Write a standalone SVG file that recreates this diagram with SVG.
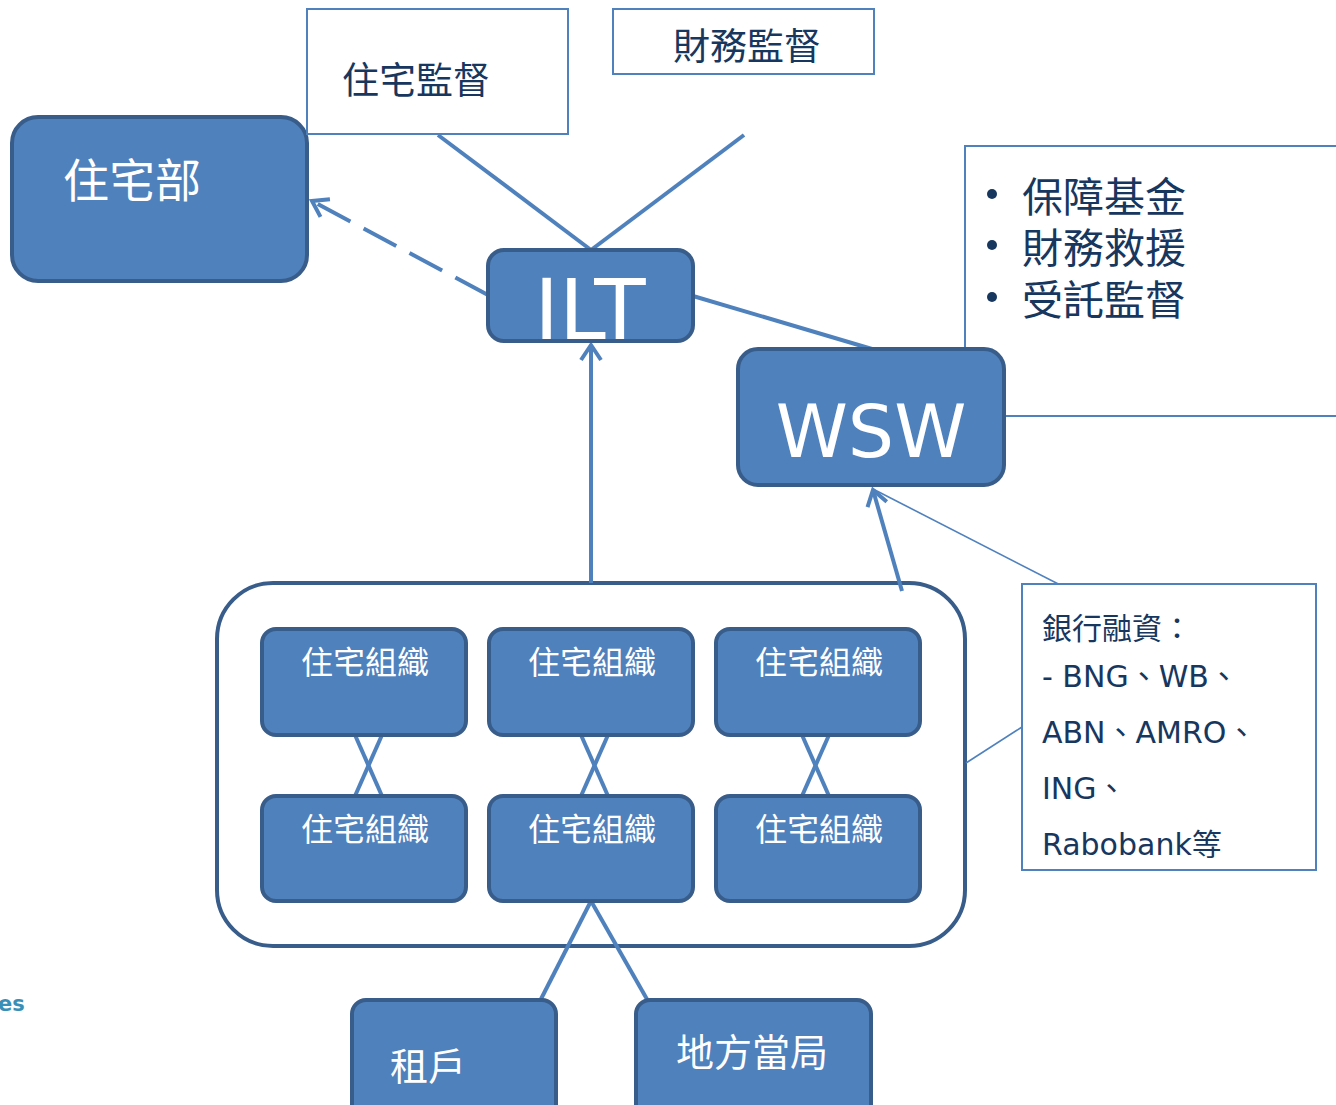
<svg xmlns="http://www.w3.org/2000/svg" width="1336" height="1105" viewBox="0 0 1336 1105">
<style>
.node{fill:#4F81BD;stroke:#385D8A;stroke-width:4}
.box{fill:#FFFFFF;stroke:#4F81BD;stroke-width:2}
.conn{stroke:#4F81BD;stroke-width:4;fill:none}
.thin{stroke:#4F81BD;stroke-width:1.6;fill:none}
.wcjk{font-family:"Noto Sans CJK TC","Noto Sans CJK SC",sans-serif;fill:#FFFFFF}
.dcjk{font-family:"Noto Sans CJK TC","Noto Sans CJK SC",sans-serif;fill:#17375E}
.lat{font-family:"DejaVu Sans","Noto Sans CJK TC",sans-serif;fill:#FFFFFF}
.bank{font-family:"DejaVu Sans","Noto Sans CJK TC",sans-serif;fill:#17375E;font-size:30px}
</style>
<defs>
<marker id="arr" markerUnits="userSpaceOnUse" viewBox="-20 -14 24 28" markerWidth="24" markerHeight="28" refX="0" refY="0" orient="auto">
<path d="M -15 -10 L 0 0 L -15 10" fill="none" stroke="#4F81BD" stroke-width="4"/>
</marker>
</defs>
<rect width="1336" height="1105" fill="#FFFFFF"/>

<g id="wsw-info">
<rect class="box" x="965" y="146" width="400" height="270"/>
<circle cx="992" cy="194" r="5" fill="#17375E"/>
<circle cx="992" cy="245" r="5" fill="#17375E"/>
<circle cx="992" cy="297" r="5" fill="#17375E"/>
<text class="dcjk" x="1022" y="212" font-size="41">保障基金</text>
<text class="dcjk" x="1022" y="263" font-size="41">財務救援</text>
<text class="dcjk" x="1022" y="315" font-size="41">受託監督</text>
</g>

<g id="container">
<rect x="217" y="583" width="748" height="363" rx="56" fill="#FFFFFF" stroke="#385D8A" stroke-width="4"/>
</g>

<g id="connectors">
<line class="conn" x1="438" y1="135" x2="591" y2="250"/>
<line class="conn" x1="744" y1="135" x2="591" y2="250"/>
<line class="conn" x1="693" y1="296" x2="872" y2="349"/>
<line class="conn" x1="488" y1="295" x2="312" y2="201" stroke-dasharray="37 15" marker-end="url(#arr)"/>
<line class="conn" x1="591" y1="583" x2="591" y2="345" marker-end="url(#arr)"/>
<line class="conn" x1="902" y1="591" x2="873" y2="490" marker-end="url(#arr)"/>
<line class="thin" x1="873" y1="489" x2="1072" y2="591"/>
<line class="thin" x1="966" y1="763" x2="1022" y2="727"/>
<line class="conn" x1="355" y1="735" x2="382" y2="796"/>
<line class="conn" x1="382" y1="735" x2="355" y2="796"/>
<line class="conn" x1="581" y1="735" x2="608" y2="796"/>
<line class="conn" x1="608" y1="735" x2="581" y2="796"/>
<line class="conn" x1="802" y1="735" x2="829" y2="796"/>
<line class="conn" x1="829" y1="735" x2="802" y2="796"/>
<line class="conn" x1="591" y1="901" x2="540" y2="1001"/>
<line class="conn" x1="591" y1="901" x2="648" y2="1001"/>
</g>

<g id="housing-ministry">
<rect class="node" x="12" y="117" width="295" height="164" rx="26"/>
<text class="wcjk" x="63" y="197" font-size="46">住宅部</text>
</g>

<g id="housing-supervision">
<rect class="box" x="307" y="9" width="261" height="125"/>
<text class="dcjk" x="342" y="94" font-size="37">住宅監督</text>
</g>

<g id="financial-supervision">
<rect class="box" x="613" y="9" width="261" height="65"/>
<text class="dcjk" x="673" y="60" font-size="37">財務監督</text>
</g>

<g id="ilt">
<rect class="node" x="488" y="250" width="205" height="91" rx="16"/>
<text class="lat" x="590" y="339" font-size="84" text-anchor="middle">ILT</text>
</g>

<g id="wsw">
<rect class="node" x="738" y="349" width="266" height="136" rx="20"/>
<text class="lat" x="871" y="457" font-size="73" text-anchor="middle">WSW</text>
</g>

<g id="org-1">
<rect class="node" x="262" y="629" width="204" height="106" rx="14"/>
<text class="wcjk" x="365" y="674" font-size="32" text-anchor="middle">住宅組織</text>
</g>
<g id="org-2">
<rect class="node" x="489" y="629" width="204" height="106" rx="14"/>
<text class="wcjk" x="592" y="674" font-size="32" text-anchor="middle">住宅組織</text>
</g>
<g id="org-3">
<rect class="node" x="716" y="629" width="204" height="106" rx="14"/>
<text class="wcjk" x="819" y="674" font-size="32" text-anchor="middle">住宅組織</text>
</g>
<g id="org-4">
<rect class="node" x="262" y="796" width="204" height="105" rx="14"/>
<text class="wcjk" x="365" y="841" font-size="32" text-anchor="middle">住宅組織</text>
</g>
<g id="org-5">
<rect class="node" x="489" y="796" width="204" height="105" rx="14"/>
<text class="wcjk" x="592" y="841" font-size="32" text-anchor="middle">住宅組織</text>
</g>
<g id="org-6">
<rect class="node" x="716" y="796" width="204" height="105" rx="14"/>
<text class="wcjk" x="819" y="841" font-size="32" text-anchor="middle">住宅組織</text>
</g>

<g id="bank-financing">
<rect class="box" x="1022" y="584" width="294" height="286"/>
<text class="bank" x="1042" y="639">銀行融資：</text>
<text class="bank" x="1042" y="687">- BNG、WB、</text>
<text class="bank" x="1042" y="743">ABN、AMRO、</text>
<text class="bank" x="1042" y="799">ING、</text>
<text class="bank" x="1042" y="855">Rabobank等</text>
</g>

<g id="tenants">
<rect class="node" x="352" y="1000" width="204" height="120" rx="14"/>
<text class="wcjk" x="390" y="1080" font-size="38">租戶</text>
</g>

<g id="local-authority">
<rect class="node" x="636" y="1000" width="235" height="120" rx="14"/>
<text class="wcjk" x="676" y="1066" font-size="38">地方當局</text>
</g>

<text x="-2" y="1011" font-family="'DejaVu Sans',sans-serif" font-size="21" font-weight="bold" fill="#3A8FB7">es</text>
</svg>
